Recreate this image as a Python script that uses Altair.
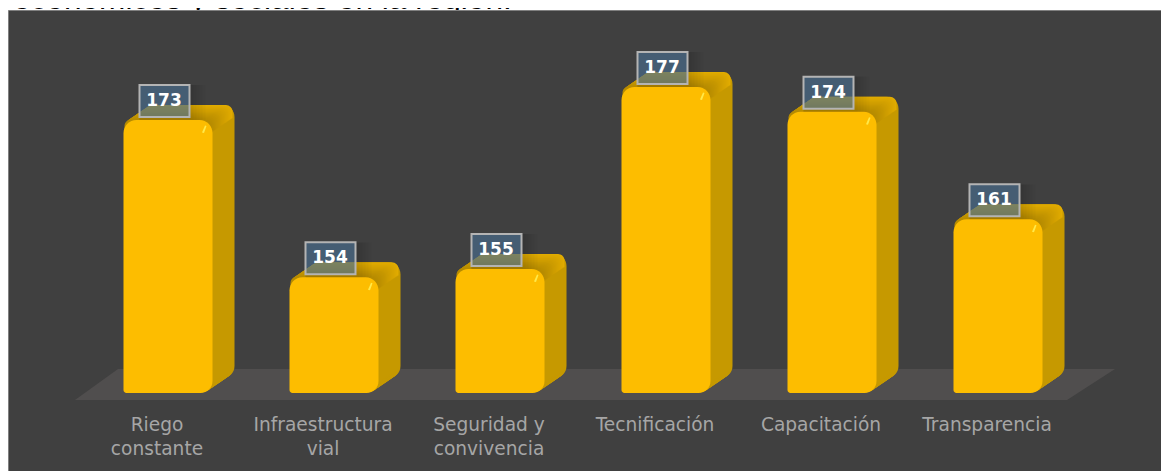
import altair as alt
import pandas as pd

categories = ["Riego|constante", "Infraestructura|vial", "Seguridad y|convivencia",
              "Tecnificación", "Capacitación", "Transparencia"]
values = [173, 154, 155, 177, 174, 161]
intro_text = "económicos y sociales en la región."

df = pd.DataFrame({"cat": categories, "value": values})
base_value = 140

W, H = 1153, 385
PX_PER_UNIT = 8.27
x_scale = alt.Scale(domain=categories, range=[77, 1073], paddingInner=0, paddingOuter=0)
y_scale = alt.Scale(domain=[base_value, base_value + H / PX_PER_UNIT], zero=False, nice=False)

def chart_base():
    return alt.Chart(df).transform_calculate(base=str(base_value))

x_axis = alt.Axis(orient="bottom", labelExpr="split(datum.value,'|')", labelAngle=0,
                  labelFont="DejaVu Sans", labelFontSize=18.6, labelColor="#A6A6A6",
                  labelLineHeight=24.5, labelPadding=22, labelOffset=-11, ticks=False, domain=False,
                  labelBaseline="top", labelAlign="center", zindex=1, labelLimit=300,
                  grid=False, title=None)
X = alt.X("cat:N", scale=x_scale, sort=categories, axis=x_axis)
Y = alt.Y("value:Q", scale=y_scale, axis=None)
Y2 = alt.Y2("base:Q")

deco = alt.Chart(pd.DataFrame({"a": [0]}))

heading = deco.mark_text(font="Liberation Sans", fontSize=31.6, align="left", baseline="alphabetic",
                         color="#000000").encode(
    x=alt.value(5), y=alt.value(1), text=alt.value(intro_text))

panel = deco.mark_rect(fill="#404040", stroke="#808080", strokeWidth=1).encode(
    x=alt.value(0.5), x2=alt.value(1200), y=alt.value(2.5), y2=alt.value(490))

floor = deco.mark_point(
    shape="M-496,15.5 L-453,-15.5 L544,-15.5 L496,15.5 Z",
    filled=True, size=4, fill="#504E4E", stroke=None, opacity=1
).encode(x=alt.value(563), y=alt.value(376.5))

DEPTH = 22
RISE = 15 / 22

side_layers = []
for i in range(DEPTH, 0, -1):
    side_layers.append(
        chart_base().mark_bar(size=89, color="#C69900", cornerRadiusTopLeft=12, cornerRadiusTopRight=12,
                              cornerRadiusBottomRight=12, cornerRadiusBottomLeft=12,
                              xOffset=i, yOffset=-i * RISE, y2Offset=-i * RISE).encode(x=X, y=Y, y2=Y2))

top_layers = []
for i in range(DEPTH, 0, -1):
    t = i / DEPTH
    r = int(0xB4 + (0xE2 - 0xB4) * t)
    g = int(0x8A + (0xAC - 0x8A) * t)
    top_layers.append(
        chart_base().transform_calculate(cap="datum.value-1.6").mark_bar(
            size=87, color=f"#{r:02X}{g:02X}00", cornerRadiusTopLeft=11, cornerRadiusTopRight=11,
            xOffset=i - 1, yOffset=-i * RISE, y2Offset=-i * RISE).encode(x=X, y=Y, y2=alt.Y2("cap:Q")))

front = chart_base().mark_bar(size=89, color="#FDBD00", cornerRadiusTopLeft=13, cornerRadiusTopRight=13,
                              cornerRadiusBottomRight=12, cornerRadiusBottomLeft=3).encode(x=X, y=Y, y2=Y2)

glint = chart_base().mark_point(shape="M-2,3.5 L1,-3.5 L2.5,-3 L0,4 Z", filled=True, size=4, fill="#FFE94A",
                                stroke=None, opacity=1, xOffset=36, yOffset=9).encode(x=X, y=Y)

box_calc = "datum.value + 32 / %f" % PX_PER_UNIT

box_shadows = [
    chart_base().transform_calculate(box_top=box_calc).mark_bar(
        size=s, fill="#000000", fillOpacity=0.025, xOffset=-3.5 + s / 2 - 25, yOffset=-3, y2Offset=0
    ).encode(x=X, y=alt.Y("box_top:Q", scale=y_scale, axis=None), y2=alt.Y2("value:Q"))
    for s in (54, 57, 60, 63, 66)
]

label_box = chart_base().transform_calculate(box_top=box_calc).mark_bar(
    size=50, fill="#4F7699", fillOpacity=0.62, stroke="#B4B4B4", strokeWidth=2,
    xOffset=-3.5, yOffset=-3, y2Offset=-3).encode(x=X, y=alt.Y("box_top:Q", scale=y_scale, axis=None), y2=alt.Y2("value:Q"))

label_text = chart_base().mark_text(font="DejaVu Sans", fontWeight="bold", fontSize=17, color="#FFFFFF",
                                    dx=-4, dy=-19).encode(x=X, y=Y, text=alt.Text("value:Q"))

chart = alt.layer(heading, panel, floor, *side_layers, *top_layers, front, glint, *box_shadows, label_box, label_text
).properties(
    width=W, height=H, background="#FFFFFF",
    padding={"left": 0, "top": 0, "right": 0, "bottom": 78},
    autosize=alt.AutoSizeParams(type="none")
).configure_view(stroke=None)

chart.save("out.html", embed_options={"renderer": "svg", "actions": False})
